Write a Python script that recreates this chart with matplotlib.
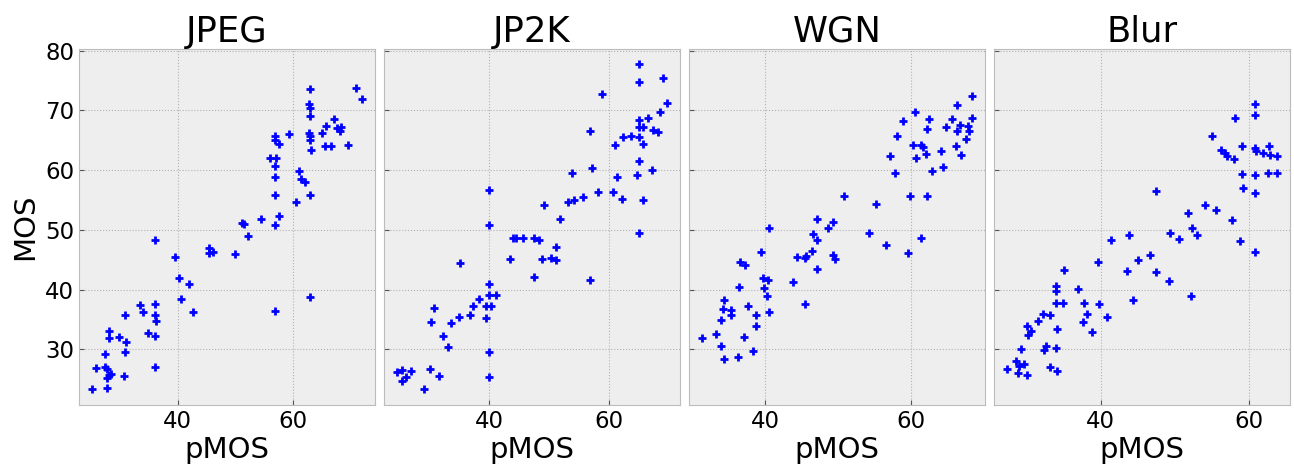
import numpy as np
import matplotlib
matplotlib.use("Agg")
import matplotlib.pyplot as plt
from matplotlib.ticker import MultipleLocator

# distortion types and (pMOS, MOS) pairs
titles = ["JPEG", "JP2K", "WGN", "Blur"]

jpeg_x = [25.2, 25.8, 27.3, 27.4, 27.8, 27.7, 27.8, 28.0, 28.0, 28.5, 28.1, 29.9, 30.6,
          30.9, 31.0, 30.8, 33.5, 33.9, 34.9, 36.1, 36.1, 36.1, 36.3, 36.1, 36.1, 39.5,
          40.3, 40.6, 42.0, 42.6, 45.5, 45.5, 46.2, 50.0, 51.1, 51.5, 52.2, 54.5, 56.0,
          57.1, 56.8, 56.9, 56.9, 57.5, 56.9, 56.9, 57.6, 56.9, 56.9, 59.3, 60.6, 61.1,
          61.3, 62.1, 62.7, 62.8, 63.0, 63.0, 63.0, 63.0, 63.2, 63.0, 63.0, 65.0, 65.8,
          65.5, 66.6, 67.1, 67.7, 68.1, 68.4, 69.5, 71.0, 71.9, 62.9]
jpeg_y = [23.4, 26.9, 29.2, 27.1, 26.7, 25.2, 23.6, 33.1, 31.9, 25.9, 25.7, 32.1, 25.5,
          35.8, 31.2, 29.6, 37.4, 36.3, 32.8, 48.3, 37.6, 35.7, 34.8, 32.2, 27.0, 45.5,
          42.0, 38.5, 40.9, 36.3, 46.9, 46.1, 46.3, 45.9, 51.2, 51.0, 49.0, 51.9, 62.0,
          62.0, 60.7, 65.7, 65.0, 64.4, 58.8, 55.9, 52.3, 50.9, 36.5, 66.0, 54.7, 59.9,
          58.6, 58.0, 66.2, 71.1, 70.4, 69.0, 73.6, 65.0, 63.4, 55.9, 38.7, 66.2, 67.4,
          64.0, 64.0, 68.5, 67.1, 66.5, 67.2, 64.3, 73.8, 72.0, 65.8]

jp2k_x = [24.6, 25.4, 25.4, 26.1, 26.9, 29.1, 30.0, 31.6, 30.2, 30.7, 32.3, 33.0, 33.6,
          35.0, 35.1, 36.8, 37.2, 38.3, 39.5, 39.5, 40.0, 40.0, 40.2, 41.1, 40.0, 40.0,
          40.0, 40.0, 43.4, 43.9, 44.4, 45.7, 47.4, 48.3, 47.4, 48.9, 50.3, 51.1, 51.1,
          49.1, 51.9, 53.1, 54.1, 53.8, 55.7, 56.9, 56.9, 57.2, 58.2, 58.8, 60.8, 61.0,
          61.4, 62.3, 62.4, 63.7, 65.0, 65.0, 65.0, 65.0, 65.0, 65.0, 64.7, 65.0, 65.7,
          65.7, 65.7, 66.6, 67.2, 67.5, 68.2, 68.6, 69.1, 69.7]
jp2k_y = [26.2, 26.6, 24.7, 25.3, 26.4, 23.4, 26.8, 25.5, 34.6, 36.9, 32.2, 30.4, 34.5,
          35.5, 44.4, 35.7, 37.3, 38.4, 37.2, 35.3, 41.0, 39.1, 37.3, 39.1, 56.7, 50.9,
          29.6, 25.3, 45.1, 48.7, 48.7, 48.7, 48.7, 48.3, 42.2, 45.1, 45.3, 44.9, 47.1,
          54.1, 51.9, 54.6, 55.0, 59.6, 55.5, 66.6, 41.6, 60.3, 56.3, 72.8, 56.3, 64.2,
          58.8, 55.1, 65.6, 65.7, 77.7, 74.8, 68.4, 67.3, 65.5, 61.5, 59.2, 49.5, 67.3,
          64.4, 55.0, 68.7, 60.0, 66.8, 66.4, 69.8, 75.5, 71.3]

wgn_x = [31.4, 33.3, 34.0, 34.3, 34.0, 34.2, 34.3, 35.3, 35.3, 36.3, 37.1, 36.4, 36.6,
         37.3, 37.6, 38.4, 38.7, 38.8, 39.4, 39.7, 39.8, 40.3, 40.4, 40.5, 40.6, 43.9,
         44.4, 45.5, 45.6, 45.5, 46.4, 46.6, 47.1, 47.1, 47.2, 48.6, 49.4, 49.4, 49.6,
         50.9, 54.3, 55.3, 56.6, 57.2, 57.9, 58.2, 59.0, 59.7, 59.9, 60.6, 60.4, 60.8,
         61.4, 61.7, 62.1, 61.4, 62.2, 62.2, 62.5, 63.0, 64.2, 64.5, 64.9, 65.7, 66.2,
         66.4, 66.4, 66.8, 67.0, 67.6, 67.9, 68.1, 68.4, 68.4]
wgn_y = [31.9, 32.5, 30.5, 28.4, 34.9, 36.7, 38.2, 36.6, 35.7, 28.7, 32.1, 40.5, 44.6,
         44.2, 37.2, 29.8, 33.9, 35.7, 46.3, 42.0, 40.2, 39.0, 41.7, 36.2, 50.3, 41.2,
         45.4, 45.3, 45.6, 37.6, 46.4, 49.3, 48.3, 51.8, 43.4, 50.3, 51.3, 45.8, 45.1,
         55.7, 49.5, 54.3, 47.5, 62.4, 59.5, 65.7, 68.2, 46.1, 55.7, 69.8, 64.2, 62.1,
         64.2, 63.9, 62.7, 48.7, 55.7, 66.9, 68.6, 59.8, 63.2, 60.5, 67.3, 68.6, 64.0,
         70.9, 66.6, 67.5, 62.5, 65.2, 67.4, 66.6, 68.8, 72.4]

blur_x = [27.4, 28.5, 28.8, 29.0, 29.6, 30.0, 29.2, 30.0, 30.2, 30.6, 31.5, 32.2, 33.1,
          32.4, 32.6, 33.1, 34.0, 34.0, 34.0, 34.1, 34.0, 34.1, 35.0, 34.9, 36.9, 37.7,
          38.2, 37.6, 38.9, 39.6, 39.8, 40.9, 41.4, 43.6, 43.8, 44.4, 45.0, 46.7, 47.5,
          47.5, 49.2, 49.4, 50.6, 51.8, 52.2, 52.3, 53.0, 54.1, 55.6, 55.0, 56.3, 56.8,
          57.1, 57.7, 58.1, 58.0, 58.8, 59.1, 59.1, 59.3, 60.9, 60.9, 60.9, 61.0, 60.9,
          60.9, 60.9, 62.0, 62.6, 62.8, 62.9, 63.8, 63.8]
blur_y = [26.7, 28.0, 26.0, 27.2, 27.6, 25.7, 30.0, 33.9, 32.4, 33.1, 34.8, 36.0, 35.8,
          29.9, 30.6, 27.1, 40.6, 39.7, 37.7, 33.4, 30.2, 26.4, 43.3, 37.8, 40.1, 37.8,
          36.0, 34.6, 32.9, 44.6, 37.6, 35.5, 48.3, 43.1, 49.2, 38.3, 45.0, 45.8, 42.9,
          56.5, 41.5, 49.5, 48.4, 52.8, 39.0, 50.3, 49.1, 54.1, 53.3, 65.8, 63.3, 62.9,
          62.3, 51.7, 68.7, 61.9, 48.2, 64.0, 59.3, 57.1, 71.1, 69.2, 63.7, 63.2, 59.2,
          56.1, 46.3, 62.9, 59.6, 64.0, 62.5, 62.4, 59.5]

xs = [jpeg_x, jp2k_x, wgn_x, blur_x]
ys = [jpeg_y, jp2k_y, wgn_y, blur_y]

plt.style.use("bmh")
fig, axes = plt.subplots(1, 4, figsize=(12.94, 4.66), dpi=100, sharey=True)
fig.subplots_adjust(left=0.061, right=0.997, top=0.895, bottom=0.131, wspace=0.03)

for ax, t, x, y in zip(axes, titles, xs, ys):
    ax.plot(x, y, "+", color="blue", markersize=6, markeredgewidth=2)
    ax.set_title(t, fontsize=25.5, pad=4)
    ax.set_xlabel("pMOS", fontsize=21, labelpad=2)
    ax.xaxis.set_major_locator(MultipleLocator(20))
    ax.margins(x=0.05)
    ax.grid(True, linestyle=":", color="#b2b2b2", linewidth=0.8)
    ax.tick_params(direction="in", labelsize=16.5, color="#555555")
    for s in ax.spines.values():
        s.set_color("#bcbcbc")

axes[0].set_ylabel("MOS", fontsize=21)
axes[0].set_ylim(20.7, 80.3)
axes[0].yaxis.set_major_locator(MultipleLocator(10))

fig.savefig("out.png", dpi=100)
